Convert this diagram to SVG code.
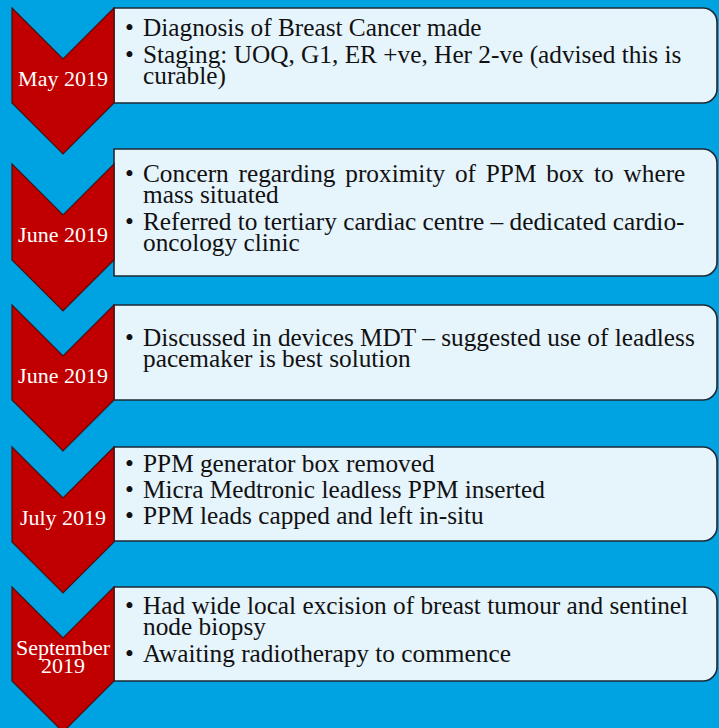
<svg xmlns="http://www.w3.org/2000/svg" width="719" height="728" viewBox="0 0 719 728">
<style>
.bg{fill:#00A3E2}
.chev{fill:#C00000;stroke:#4a1010;stroke-width:1.2}
.box{fill:#E6F4FC;stroke:#1c2a36;stroke-width:1.6}
.datelabel{font-family:"Liberation Serif","Times New Roman",serif;font-size:22px;fill:#ffffff;text-anchor:middle}
.bodytext{font-family:"Liberation Serif","Times New Roman",serif;font-size:25.3px;fill:#111111}
</style>
<rect class="bg" x="0" y="0" width="719" height="728"/>

<g id="step1">
<path class="box" d="M114,8 H703 A14,14 0 0 1 717,22 V89 A14,14 0 0 1 703,103 H114 Z"/>
<polygon class="chev" points="12,8 63,59 114,8 114,103 63,154 12,103"/>
<text class="datelabel" x="63" y="86">May 2019</text>
<g class="bodytext">
<text x="125" y="36">•</text>
<text x="143" y="36">Diagnosis of Breast Cancer made</text>
<text x="125" y="63">•</text>
<text x="143" y="63">Staging: UOQ, G1, ER +ve, Her 2-ve (advised this is</text>
<text x="143" y="84">curable)</text>
</g>
</g>

<g id="step2">
<path class="box" d="M114,149 H703 A14,14 0 0 1 717,163 V262 A14,14 0 0 1 703,276 H114 Z"/>
<polygon class="chev" points="12,164 63,215 114,164 114,260 63,311 12,260"/>
<text class="datelabel" x="63" y="242">June 2019</text>
<g class="bodytext">
<text x="125" y="182">•</text>
<text x="143" y="182" word-spacing="3.5">Concern regarding proximity of PPM box to where</text>
<text x="143" y="203">mass situated</text>
<text x="125" y="230">•</text>
<text x="143" y="230">Referred to tertiary cardiac centre – dedicated cardio-</text>
<text x="143" y="251">oncology clinic</text>
</g>
</g>

<g id="step3">
<path class="box" d="M114,305 H703 A14,14 0 0 1 717,319 V386 A14,14 0 0 1 703,400 H114 Z"/>
<polygon class="chev" points="12,305 63,356 114,305 114,400 63,451 12,400"/>
<text class="datelabel" x="63" y="383">June 2019</text>
<g class="bodytext">
<text x="125" y="346">•</text>
<text x="143" y="346">Discussed in devices MDT – suggested use of leadless</text>
<text x="143" y="367">pacemaker is best solution</text>
</g>
</g>

<g id="step4">
<path class="box" d="M114,447 H703 A14,14 0 0 1 717,461 V527 A14,14 0 0 1 703,541 H114 Z"/>
<polygon class="chev" points="12,447 63,498 114,447 114,542 63,593 12,542"/>
<text class="datelabel" x="63" y="525">July 2019</text>
<g class="bodytext">
<text x="125" y="472">•</text>
<text x="143" y="472">PPM generator box removed</text>
<text x="125" y="498">•</text>
<text x="143" y="498">Micra Medtronic leadless PPM inserted</text>
<text x="125" y="524">•</text>
<text x="143" y="524">PPM leads capped and left in-situ</text>
</g>
</g>

<g id="step5">
<path class="box" d="M114,587 H703 A14,14 0 0 1 717,601 V667 A14,14 0 0 1 703,681 H114 Z"/>
<polygon class="chev" points="12,587 63,638 114,587 114,681 63,732 12,681"/>
<text class="datelabel" x="63" y="655">September</text>
<text class="datelabel" x="63" y="673">2019</text>
<g class="bodytext">
<text x="125" y="614">•</text>
<text x="143" y="614">Had wide local excision of breast tumour and sentinel</text>
<text x="143" y="635">node biopsy</text>
<text x="125" y="662">•</text>
<text x="143" y="662">Awaiting radiotherapy to commence</text>
</g>
</g>
</svg>
